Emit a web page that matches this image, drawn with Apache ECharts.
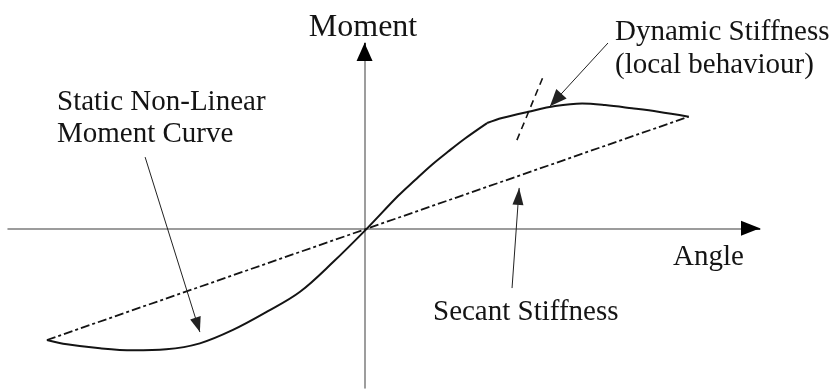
<!DOCTYPE html>
<html>
<head>
<meta charset="utf-8">
<script src="https://cdn.jsdelivr.net/npm/echarts@6/dist/echarts.min.js"></script>
<style>
  html, body { margin: 0; padding: 0; background: #ffffff; }
  #chart { width: 835px; height: 390px; }
</style>
</head>
<body>
<div id="chart"></div>
<script>
// Static non-linear moment-angle curve (normalised so the end point is 1, 1)
const curveLowerAngle  = [-0.98, -0.918, -0.816, -0.714, -0.612, -0.508, -0.406, -0.301, -0.199, -0.097, 0.008, 0.103, 0.156, 0.208, 0.258, 0.310, 0.378];
const curveLowerMoment = [-1.0, -1.039, -1.075, -1.093, -1.084, -1.030, -0.910, -0.747, -0.568, -0.302, 0.0, 0.289, 0.433, 0.570, 0.688, 0.805, 0.943];
const curveUpperAngle  = [0.378, 0.424, 0.505, 0.588, 0.671, 0.742, 0.825, 0.906, 1.0];
const curveUpperMoment = [0.943, 0.988, 1.044, 1.095, 1.118, 1.104, 1.075, 1.044, 1.0];

// Secant stiffness: straight line joining the two end points of the curve
const secantAngle  = [-0.98, 1.0];
const secantMoment = [-1.0, 1.0];

// Dynamic (tangent) stiffness at a local point on the curve
const tangentAngle  = [0.47, 0.554];
const tangentMoment = [0.79, 1.38];

// Axis extents
const angleRange  = [-1.1, 1.22];
const momentRange = [-1.43, 1.66];

// Callout arrows: [tail, tip] in angle/moment units
const staticArrow  = [[-0.677, 0.638], [-0.508, -0.929]];
const secantArrow  = [[0.455, -0.535], [0.477, 0.362]];
const dynamicArrow = [[0.751, 1.660], [0.572, 1.094]];

// Text
const labelAngle   = 'Angle';
const labelMoment  = 'Moment';
const labelStatic  = 'Static Non-Linear\nMoment Curve';
const labelSecant  = 'Secant Stiffness';
const labelDynamic = 'Dynamic Stiffness\n(local behaviour)';

const zip = (xs, ys) => xs.map((x, i) => [x, ys[i]]);

// Arrowhead whose tip sits at the centre of its box, so it ends exactly on the line end
const headPath = 'path://M0,0 L5,20 L-5,20 Z M0,-20';
// lines-series symbolSize is [fromSize, toSize]; the head is [width, 2 x length]
const head = (width, length) => [1, [width, 2 * length]];

const serif = '"Liberation Serif", "DejaVu Serif", serif';
const ink = '#141414';

const chart = echarts.init(document.getElementById('chart'), null, { renderer: 'canvas' });

const axisCommon = {
  type: 'value',
  axisLine: { show: true, onZero: true, lineStyle: { color: '#7c7c7c', width: 1.5 } },
  axisTick: { show: false },
  axisLabel: { show: false },
  splitLine: { show: false }
};

chart.setOption({
  animation: false,
  backgroundColor: '#ffffff',
  grid: { left: 8, right: 75, top: 43, bottom: 2, containLabel: false },
  xAxis: Object.assign({}, axisCommon, { min: angleRange[0], max: angleRange[1] }),
  yAxis: Object.assign({}, axisCommon, { min: momentRange[0], max: momentRange[1] }),
  series: [
    {
      name: 'Moment curve (lower)',
      type: 'line',
      data: zip(curveLowerAngle, curveLowerMoment),
      showSymbol: false,
      smooth: 0.35,
      silent: true,
      lineStyle: { color: ink, width: 2 },
      z: 5
    },
    {
      name: 'Moment curve (upper)',
      type: 'line',
      data: zip(curveUpperAngle, curveUpperMoment),
      showSymbol: false,
      smooth: 0.35,
      silent: true,
      lineStyle: { color: ink, width: 2 },
      z: 5
    },
    {
      name: 'Secant stiffness',
      type: 'line',
      data: zip(secantAngle, secantMoment),
      showSymbol: false,
      silent: true,
      lineStyle: { color: ink, width: 1.8, type: [9, 3, 3, 3] },
      z: 4
    },
    {
      name: 'Dynamic stiffness',
      type: 'line',
      data: zip(tangentAngle, tangentMoment),
      showSymbol: false,
      silent: true,
      lineStyle: { color: ink, width: 1.6, type: [7, 5] },
      z: 4
    },
    {
      name: 'Callouts',
      type: 'lines',
      coordinateSystem: 'cartesian2d',
      silent: true,
      symbol: ['none', headPath],
      lineStyle: { color: '#222222', width: 1, opacity: 1, curveness: 0 },
      data: [
        { coords: staticArrow, symbolSize: head(11, 15) },
        { coords: secantArrow, symbolSize: head(11, 17) },
        { coords: dynamicArrow, symbolSize: head(14, 17) }
      ],
      z: 6
    },
    {
      name: 'Axis heads',
      type: 'lines',
      coordinateSystem: 'cartesian2d',
      silent: true,
      symbol: ['none', headPath],
      lineStyle: { color: '#000000', width: 1.5, opacity: 1, curveness: 0 },
      data: [
        { coords: [[angleRange[1] - 0.02, 0], [angleRange[1], 0]], symbolSize: head(15, 19) },
        { coords: [[0, momentRange[1] - 0.05], [0, momentRange[1]]], symbolSize: head(16, 18) }
      ],
      z: 6
    }
  ],
  graphic: [
    { type: 'text', x: 363, y: 11, silent: true,
      style: { text: labelMoment, fontFamily: serif, fontSize: 32, lineHeight: 34, fill: ink, align: 'center', verticalAlign: 'top' } },
    { type: 'text', x: 673, y: 241, silent: true,
      style: { text: labelAngle, fontFamily: serif, fontSize: 29, lineHeight: 32, fill: ink, align: 'left', verticalAlign: 'top' } },
    { type: 'text', x: 57, y: 86, silent: true,
      style: { text: labelStatic, fontFamily: serif, fontSize: 29, lineHeight: 32, fill: ink, align: 'left', verticalAlign: 'top' } },
    { type: 'text', x: 433, y: 296, silent: true,
      style: { text: labelSecant, fontFamily: serif, fontSize: 29, lineHeight: 32, fill: ink, align: 'left', verticalAlign: 'top' } },
    { type: 'text', x: 615, y: 16, silent: true,
      style: { text: labelDynamic, fontFamily: serif, fontSize: 29, lineHeight: 33, fill: ink, align: 'left', verticalAlign: 'top' } }
  ]
});
</script>
</body>
</html>
